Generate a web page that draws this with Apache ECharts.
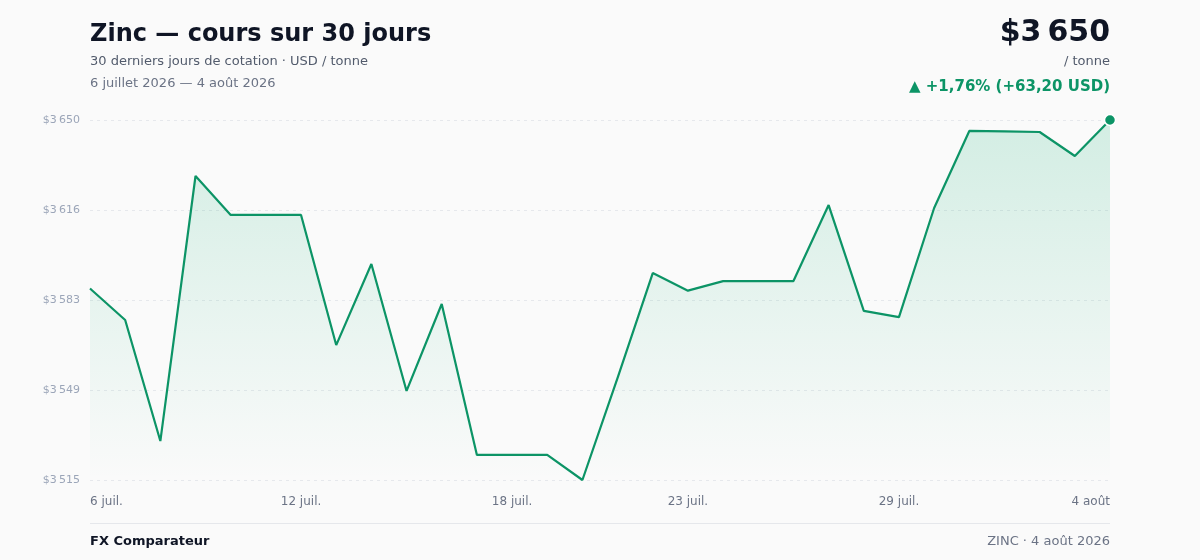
<!DOCTYPE html>
<html>
<head>
<meta charset="utf-8">
<script src="https://cdn.jsdelivr.net/npm/echarts@6/dist/echarts.min.js"></script>
<style>
html,body{margin:0;padding:0;background:#fafafa;}
#c{width:1200px;height:560px;}
</style>
</head>
<body>
<div id="c"></div>
<script>
const dates = ['6 juil.','7 juil.','8 juil.','9 juil.','10 juil.','11 juil.','12 juil.','13 juil.','14 juil.','15 juil.',
  '16 juil.','17 juil.','18 juil.','19 juil.','20 juil.','21 juil.','22 juil.','23 juil.','24 juil.','25 juil.',
  '26 juil.','27 juil.','28 juil.','29 juil.','30 juil.','31 juil.','1 août','2 août','3 août','4 août'];
const prices = [3586.8, 3575.0, 3529.6, 3629.0, 3614.4, 3614.4, 3614.4, 3565.6, 3596.0, 3548.4,
  3581.0, 3524.4, 3524.4, 3524.4, 3515.0, 3553.3, 3592.6, 3586.0, 3589.6, 3589.6,
  3589.6, 3618.1, 3578.4, 3576.1, 3617.0, 3645.9, 3645.7, 3645.5, 3636.5, 3650.0];
const labelIdx = [0, 6, 12, 17, 23, 29];
const yMin = 3515, yMax = 3650, yStep = 33.75;

const FONT = 'DejaVu Sans';
const GREEN = '#0c9466';
const fmt = v => '$' + String(Math.round(v)).replace(/\B(?=(\d{3})+(?!\d))/g, '\u202F');

const chart = echarts.init(document.getElementById('c'), null, {renderer: 'canvas'});
chart.setOption({
  backgroundColor: '#fafafa',
  animation: false,
  textStyle: {fontFamily: FONT},
  grid: {left: 90, right: 90, top: 120, bottom: 80, containLabel: false},
  xAxis: {
    type: 'category',
    data: dates,
    boundaryGap: false,
    axisLine: {show: false},
    axisTick: {show: false},
    splitLine: {show: false},
    axisLabel: {
      interval: (i) => labelIdx.includes(i),
      color: '#6b7385', fontSize: 12, fontFamily: FONT, margin: 16,
      alignMinLabel: 'left', alignMaxLabel: 'right'
    }
  },
  yAxis: {
    type: 'value',
    min: yMin, max: yMax, interval: yStep,
    axisLine: {show: false}, axisTick: {show: false},
    axisLabel: {formatter: fmt, color: '#9ba5b8', fontSize: 11, fontFamily: FONT, margin: 10},
    splitLine: {lineStyle: {color: '#e6e8ec', type: [3, 4], width: 1}}
  },
  series: [{
    type: 'line',
    data: prices,
    symbol: 'none',
    lineStyle: {color: GREEN, width: 2.2},
    areaStyle: {
      origin: 'start',
      color: new echarts.graphic.LinearGradient(0, 0, 0, 1, [
        {offset: 0, color: 'rgba(16,175,115,0.24)'},
        {offset: 1, color: 'rgba(16,175,115,0.0)'}
      ])
    },
    markPoint: {
      symbol: 'circle', symbolSize: 11,
      itemStyle: {color: GREEN, borderColor: '#ffffff', borderWidth: 1.5},
      label: {show: false},
      data: [{coord: [prices.length - 1, prices[prices.length - 1]]}]
    }
  }],
  graphic: [
    {type: 'text', left: 90, top: 23, style: {text: 'Zinc — cours sur 30 jours', font: 'bold 24px "DejaVu Sans"', fill: '#0f1525'}},
    {type: 'text', left: 90, top: 55, style: {text: '30 derniers jours de cotation · USD / tonne', font: '13px "DejaVu Sans"', fill: '#525b6c'}},
    {type: 'text', left: 90, top: 77, style: {text: '6 juillet 2026 — 4 août 2026', font: '13px "DejaVu Sans"', fill: '#6b7385'}},
    {type: 'text', right: 90, top: 18, style: {text: fmt(prices[prices.length - 1]), font: 'bold 30px "DejaVu Sans"', fill: '#0f1525'}},
    {type: 'text', right: 90, top: 55, style: {text: '/ tonne', font: '13px "DejaVu Sans"', fill: '#525b6c'}},
    {type: 'text', right: 90, top: 80, style: {text: '▲ +1,76% (+63,20 USD)', font: 'bold 15px "DejaVu Sans"', fill: GREEN}},
    {type: 'line', shape: {x1: 90, y1: 523.5, x2: 1110, y2: 523.5}, style: {stroke: '#e5e7eb', lineWidth: 1}},
    {type: 'text', left: 90, top: 535, style: {text: 'FX Comparateur', font: 'bold 13px "DejaVu Sans"', fill: '#0f1525'}},
    {type: 'text', right: 90, top: 535, style: {text: 'ZINC · 4 août 2026', font: '13px "DejaVu Sans"', fill: '#6b7385'}}
  ]
});
</script>
</body>
</html>
